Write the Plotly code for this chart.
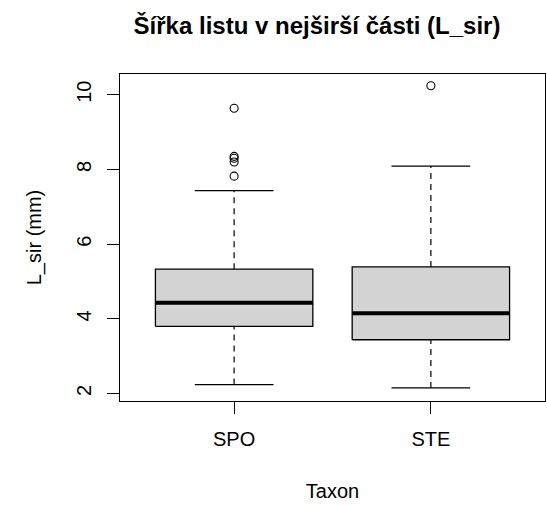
import plotly.graph_objects as go

categories = ["SPO", "STE"]
positions = [1, 2]
q1 = [3.80, 3.44]
median = [4.43, 4.15]
q3 = [5.33, 5.39]
lower_whisker = [2.24, 2.15]
upper_whisker = [7.43, 8.09]
outliers = [[9.64, 8.35, 8.30, 8.20, 7.82], [10.24]]
yticks = [2, 4, 6, 8, 10]

half_box = 0.4
half_cap = 0.2
FONT = "Liberation Sans, Arial, sans-serif"

fig = go.Figure()
for i, p in enumerate(positions):
    # whiskers (dashed)
    fig.add_trace(go.Scatter(x=[p, p], y=[q3[i], upper_whisker[i]], mode="lines",
                             line=dict(color="black", width=1.2, dash="6px,5px"), hoverinfo="skip"))
    fig.add_trace(go.Scatter(x=[p, p], y=[lower_whisker[i], q1[i]], mode="lines",
                             line=dict(color="black", width=1.2, dash="6px,5px"), hoverinfo="skip"))
    # caps
    fig.add_trace(go.Scatter(x=[p - half_cap, p + half_cap], y=[upper_whisker[i]] * 2, mode="lines",
                             line=dict(color="black", width=1.3), hoverinfo="skip"))
    fig.add_trace(go.Scatter(x=[p - half_cap, p + half_cap], y=[lower_whisker[i]] * 2, mode="lines",
                             line=dict(color="black", width=1.3), hoverinfo="skip"))
    # box
    fig.add_trace(go.Scatter(x=[p - half_box, p + half_box, p + half_box, p - half_box, p - half_box],
                             y=[q1[i], q1[i], q3[i], q3[i], q1[i]], mode="lines", fill="toself",
                             fillcolor="#D3D3D3", line=dict(color="black", width=1.3), hoverinfo="skip"))
    # median
    fig.add_trace(go.Scatter(x=[p - half_box, p + half_box], y=[median[i]] * 2, mode="lines",
                             line=dict(color="black", width=4), hoverinfo="skip"))
    # outliers
    fig.add_trace(go.Scatter(x=[p] * len(outliers[i]), y=outliers[i], mode="markers",
                             marker=dict(symbol="circle-open", size=8, color="black", line=dict(width=1.1)),
                             hoverinfo="skip"))

fig.update_layout(
    width=547, height=505,
    margin=dict(l=120, r=2, t=74, b=104, autoexpand=False),
    paper_bgcolor="white", plot_bgcolor="white",
    showlegend=False,
    font=dict(family=FONT, size=20, color="black"),
    title=dict(text="<b>Šířka listu v nejširší části (L_sir)</b>", x=317 / 547, xref="container",
               xanchor="center", y=1 - 26 / 505, yref="container", yanchor="middle",
               font=dict(family=FONT, size=24, color="black"), automargin=False),
)
fig.update_xaxes(range=[0.42, 2.58], tickvals=positions, ticktext=categories,
                 showgrid=False, zeroline=False, showline=True, mirror=True,
                 linecolor="black", linewidth=1.3, ticks="outside", ticklen=12,
                 tickcolor="black", tickwidth=1.3, automargin=False,
                 tickfont=dict(size=20), ticklabelstandoff=8,
                 title=dict(text="Taxon", standoff=34, font=dict(size=20)))
fig.update_yaxes(range=[1.80, 10.555], tickvals=yticks, ticktext=[str(v) for v in yticks],
                 tickangle=-90, showgrid=False, zeroline=False, showline=True, mirror=True,
                 linecolor="black", linewidth=1.3, ticks="outside", ticklen=12,
                 tickcolor="black", tickwidth=1.3, automargin=False,
                 tickfont=dict(size=20), ticklabelstandoff=8,
                 title=dict(text="L_sir (mm)", standoff=25, font=dict(size=20)))

fig.write_html("out.html", config={"displayModeBar": False},
               post_script="document.body.style.margin='0';document.body.style.overflow='hidden';")
